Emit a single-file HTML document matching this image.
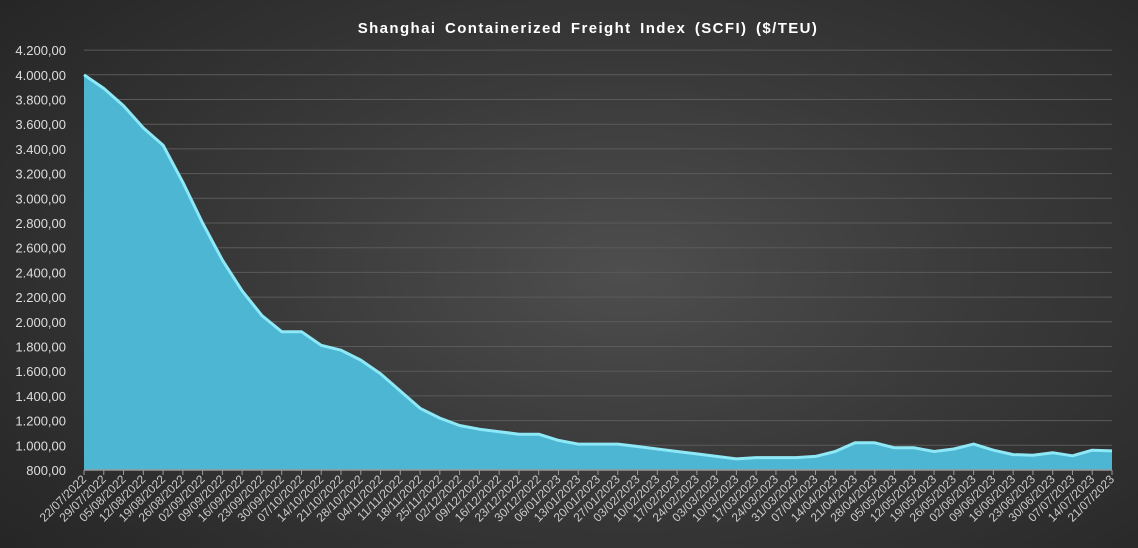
<!DOCTYPE html><html><head><meta charset="utf-8"><style>html,body{margin:0;padding:0}body{width:1138px;height:543px;overflow:hidden;background:radial-gradient(ellipse 70% 80% at 55% 50%,#4e4e4e 0%,#3a3a3a 45%,#262626 100%)}</style></head><body>
<svg width="1138" height="543" xmlns="http://www.w3.org/2000/svg" font-family="Liberation Sans, sans-serif">
<text x="588" y="33" fill="#fff" font-size="15" font-weight="bold" text-anchor="middle" letter-spacing="1.4" word-spacing="3">Shanghai  Containerized Freight Index  (SCFI) ($/TEU)</text>
<g id="g"></g>
</svg>
<script>
const v=[4000,3890,3750,3570,3430,3130,2800,2500,2250,2050,1920,1920,1810,1770,1690,1580,1440,1300,1220,1160,1130,1110,1090,1090,1040,1010,1010,1010,990,970,950,930,910,890,900,900,900,910,950,1020,1020,980,980,960,950,970,1010,960,925,920,940,915,960,955];
v.splice(43,1);
const N=53;
const x0=84,x1=1112,y0=470,sc=24.7/200;
const X=i=>x0+i*(x1-x0)/(N-1),Y=val=>y0-(val-800)*sc;
const labs=[];
for(let i=0;i<N;i++){const t=new Date(2022,6,22+7*i);labs.push(String(t.getDate()).padStart(2,'0')+'/'+String(t.getMonth()+1).padStart(2,'0')+'/'+t.getFullYear());}
let s='';
for(let k=0;k<=17;k++){const val=800+k*200,y=Y(val);if(k>0)s+=`<line x1="${x0}" x2="${x1}" y1="${y}" y2="${y}" stroke="#5a5a5a" stroke-width="1"/>`;
s+=`<text x="66" y="${y+5}" fill="#ddd" font-size="13" text-anchor="end">${val.toLocaleString('de-DE')},00</text>`;}
let p=v.map((a,i)=>`${X(i).toFixed(1)},${Y(a).toFixed(1)}`).join(' ');
s+=`<polygon points="${x0},${y0} ${p} ${x1},${y0}" fill="#4db6d2"/>`;
s+=`<polyline points="${p}" fill="none" stroke="#8ee8f6" stroke-width="3" stroke-linejoin="round"/>`;
s+=`<line x1="${x0}" x2="${x1}" y1="${y0}" y2="${y0}" stroke="#999" stroke-width="1.5"/>`;
for(let i=0;i<N;i++){const x=X(i);s+=`<line x1="${x}" x2="${x}" y1="${y0}" y2="${y0+5}" stroke="#999"/>`;
s+=`<text transform="translate(${x+3},${y0+10}) rotate(-45)" fill="#ccc" font-size="12" text-anchor="end">${labs[i]}</text>`;}
document.getElementById('g').innerHTML=s;
</script></body></html>
